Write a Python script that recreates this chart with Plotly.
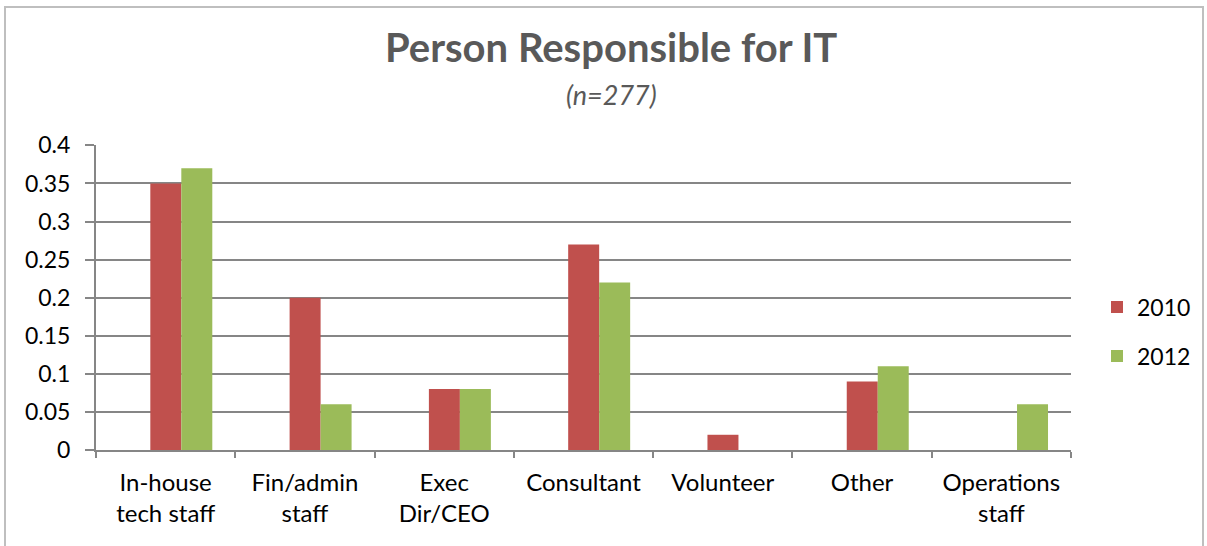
import plotly.graph_objects as go

categories = ["In-house<br>tech staff", "Fin/admin<br>staff", "Exec<br>Dir/CEO", "Consultant",
              "Volunteer", "Other", "Operations<br>staff"]
series_names = ["2010", "2012"]
values_2010 = [0.35, 0.20, 0.08, 0.27, 0.02, 0.09, 0]
values_2012 = [0.37, 0.06, 0.08, 0.22, 0, 0.11, 0.06]
y_ticks = [0, 0.05, 0.1, 0.15, 0.2, 0.25, 0.3, 0.35, 0.4]
y_tick_labels = ["0", "0.05", "0.1", "0.15", "0.2", "0.25", "0.3", "0.35", "0.4"]

W, H = 1207, 546
L, R, T, B = 96, 136, 145, 96
pw, ph = W - L - R, H - T - B

FONT = "Lato"
BAR_W = 0.2225
fig = go.Figure()
fig.add_trace(go.Bar(name=series_names[0], x=categories, y=values_2010,
                     marker_color="#C0504D", marker_line_width=0, legend="legend",
                     width=BAR_W, offset=-0.11))
fig.add_trace(go.Bar(name=series_names[1], x=categories, y=values_2012,
                     marker_color="#9BBB59", marker_line_width=0, legend="legend2",
                     width=BAR_W, offset=0.1125))

def px_x(x):
    return (x - L) / pw

def px_y(y):
    return (H - B - y) / ph

leg_common = dict(xanchor="left", yanchor="middle", font=dict(size=23, family=FONT),
                  itemwidth=30, bgcolor="rgba(0,0,0,0)")

fig.update_layout(
    width=W, height=H,
    margin=dict(l=L, r=R, t=T, b=B, autoexpand=False),
    paper_bgcolor="white", plot_bgcolor="white",
    barmode="overlay",
    font=dict(family=FONT, size=23, color="#000000"),
    showlegend=True,
    legend=dict(x=px_x(1097), y=px_y(307), **leg_common),
    legend2=dict(x=px_x(1097), y=px_y(356), **leg_common),
    xaxis=dict(showline=True, linecolor="#868686", linewidth=2, automargin=False,
               ticks="outside", ticklen=6, tickcolor="#868686", tickwidth=2,
               ticklabelstandoff=10,
               tickson="boundaries", tickfont=dict(size=24, family=FONT), fixedrange=True),
    yaxis=dict(range=[0, 0.4005], tickvals=y_ticks, ticktext=y_tick_labels, automargin=False,
               showline=True, linecolor="#868686", linewidth=2,
               showgrid=True, gridcolor="#868686", gridwidth=2,
               ticks="outside", ticklen=9, tickcolor="#868686", tickwidth=2,
               ticklabelstandoff=10,
               tickfont=dict(size=23, family=FONT), zeroline=False, fixedrange=True),
    annotations=[
        dict(text="<b>Person Responsible for IT</b>", xref="paper", yref="paper",
             x=px_x(611), y=px_y(47), xanchor="center", yanchor="middle", showarrow=False,
             font=dict(size=40, family=FONT, color="#595959")),
        dict(text="<i>(n=277)</i>", xref="paper", yref="paper",
             x=px_x(611), y=px_y(94), xanchor="center", yanchor="middle", showarrow=False,
             font=dict(size=27, family=FONT, color="#595959")),
    ],
    shapes=[dict(type="rect", xref="paper", yref="paper",
                 x0=px_x(5), x1=px_x(1203), y0=px_y(560), y1=px_y(7),
                 line=dict(color="#BFBFBF", width=2), layer="below")],
)

fig.write_html("out.html", config={"displayModeBar": False},
               post_script="document.body.style.margin='0px';")
